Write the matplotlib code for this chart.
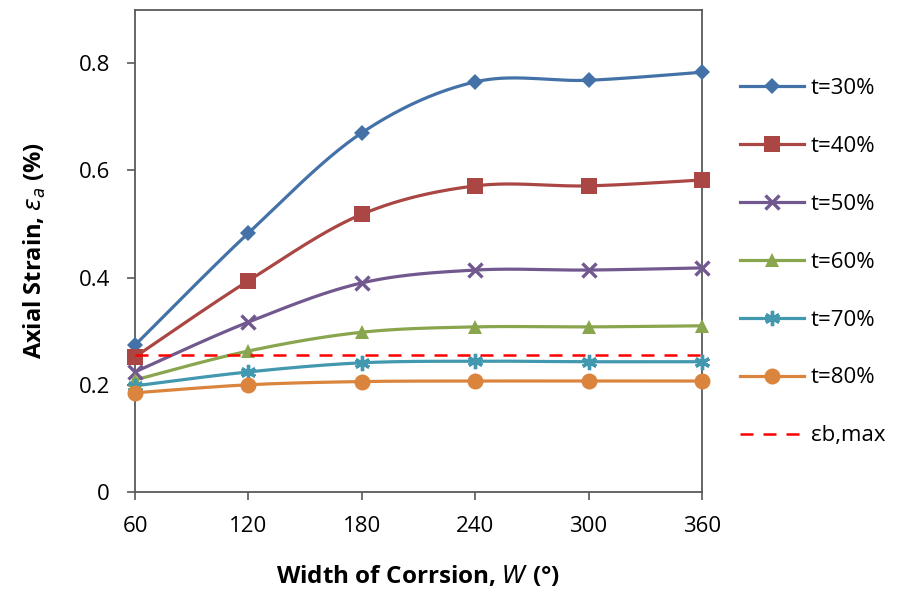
import numpy as np
import matplotlib
matplotlib.use("Agg")
import matplotlib.pyplot as plt
from matplotlib.lines import Line2D

plt.rcParams['font.family'] = ['Open Sans', 'DejaVu Sans']

# Corrosion width (degrees)
width = [60, 120, 180, 240, 300, 360]

# Axial strain (%) for each corrosion depth ratio
t30 = [0.274, 0.483, 0.670, 0.765, 0.768, 0.783]
t40 = [0.252, 0.394, 0.518, 0.571, 0.571, 0.582]
t50 = [0.224, 0.317, 0.390, 0.414, 0.414, 0.418]
t60 = [0.209, 0.263, 0.298, 0.308, 0.308, 0.310]
t70 = [0.198, 0.224, 0.241, 0.244, 0.243, 0.243]
t80 = [0.185, 0.200, 0.206, 0.207, 0.207, 0.207]
eps_b_max = 0.255

labels = ['t=30%', 't=40%', 't=50%', 't=60%', 't=70%', 't=80%']
series = [t30, t40, t50, t60, t70, t80]
colors = ['#4472A8', '#AA4643', '#71588F', '#89A54E', '#4198AF', '#DB843D']
markers = ['D', 's', 'x', '^', (6, 2, 0), 'o']
msizes = [8.5, 11, 10, 10.5, 11, 11.5]
medge = [0, 0, 2.4, 0, 2.4, 0]


def smooth(x, y, n=40):
    """Cardinal (Catmull-Rom) Bezier smoothing through the given points."""
    x = np.asarray(x, float)
    y = np.asarray(y, float)
    px = np.concatenate([[x[0]], x, [x[-1]]])
    py = np.concatenate([[y[0]], y, [y[-1]]])
    xs, ys = [], []
    s = np.linspace(0, 1, n)
    for i in range(1, len(px) - 2):
        p0 = np.array([px[i], py[i]])
        p3 = np.array([px[i + 1], py[i + 1]])
        p1 = p0 + (np.array([px[i + 1], py[i + 1]]) - np.array([px[i - 1], py[i - 1]])) / 6
        p2 = p3 - (np.array([px[i + 2], py[i + 2]]) - np.array([px[i], py[i]])) / 6
        b = ((1 - s) ** 3)[:, None] * p0 + (3 * (1 - s) ** 2 * s)[:, None] * p1 \
            + (3 * (1 - s) * s ** 2)[:, None] * p2 + (s ** 3)[:, None] * p3
        xs.append(b[:, 0])
        ys.append(b[:, 1])
    return np.concatenate(xs), np.concatenate(ys)


fig = plt.figure(figsize=(8.98, 5.92), dpi=100)
ax = fig.add_axes([135 / 898, 1 - 492 / 592, (702 - 135) / 898, (492 - 9.5) / 592])

handles = []
for ys, lab, c, m, ms, mew in zip(series, labels, colors, markers, msizes, medge):
    sx, sy = smooth(width, ys)
    ax.plot(sx, sy, color=c, lw=2.3, zorder=3, clip_on=False)
    ax.plot(width, ys, linestyle='none', marker=m, color=c, markersize=ms,
            markeredgewidth=mew, markeredgecolor=c, zorder=4, clip_on=False)
    handles.append(Line2D([], [], color=c, lw=2.3, marker=m, markersize=ms,
                          markeredgewidth=mew, markeredgecolor=c))

ax.plot([width[0], width[-1]], [eps_b_max, eps_b_max], color='#FF0000',
        lw=1.8, dashes=(5.2, 4), zorder=5)
handles.append(Line2D([], [], color='#FF0000', lw=1.8, dashes=(5.2, 4)))

ax.set_xlim(60, 360)
ax.set_ylim(0, 0.9)
ax.set_xticks(width)
ax.set_yticks([0, 0.2, 0.4, 0.6, 0.8])
ax.set_yticklabels(['0', '0.2', '0.4', '0.6', '0.8'])
ax.tick_params(axis='both', direction='out', length=6, width=1.2,
               color='#595959', labelsize=16)
ax.tick_params(axis='x', pad=11)
ax.tick_params(axis='y', pad=12)

for sp in ax.spines.values():
    sp.set_color('#595959')
    sp.set_linewidth(1.3)

ax.set_xlabel('Width of Corrsion, $\\mathit{W}$ (°)', fontsize=17.5,
              fontweight='bold', labelpad=20)
ax.set_ylabel('Axial Strain, $\\mathit{\\epsilon_a}$ (%)', fontsize=17,
              fontweight='bold', labelpad=22)

fig.legend(handles, labels + ['εb,max'], loc='upper left',
           bbox_to_anchor=(740 / 898, 1 - 78 / 592), frameon=False,
           fontsize=16, labelspacing=1.66, handlelength=2.9,
           handletextpad=0.3, borderaxespad=0, borderpad=0)

fig.savefig('out.png', dpi=100)
